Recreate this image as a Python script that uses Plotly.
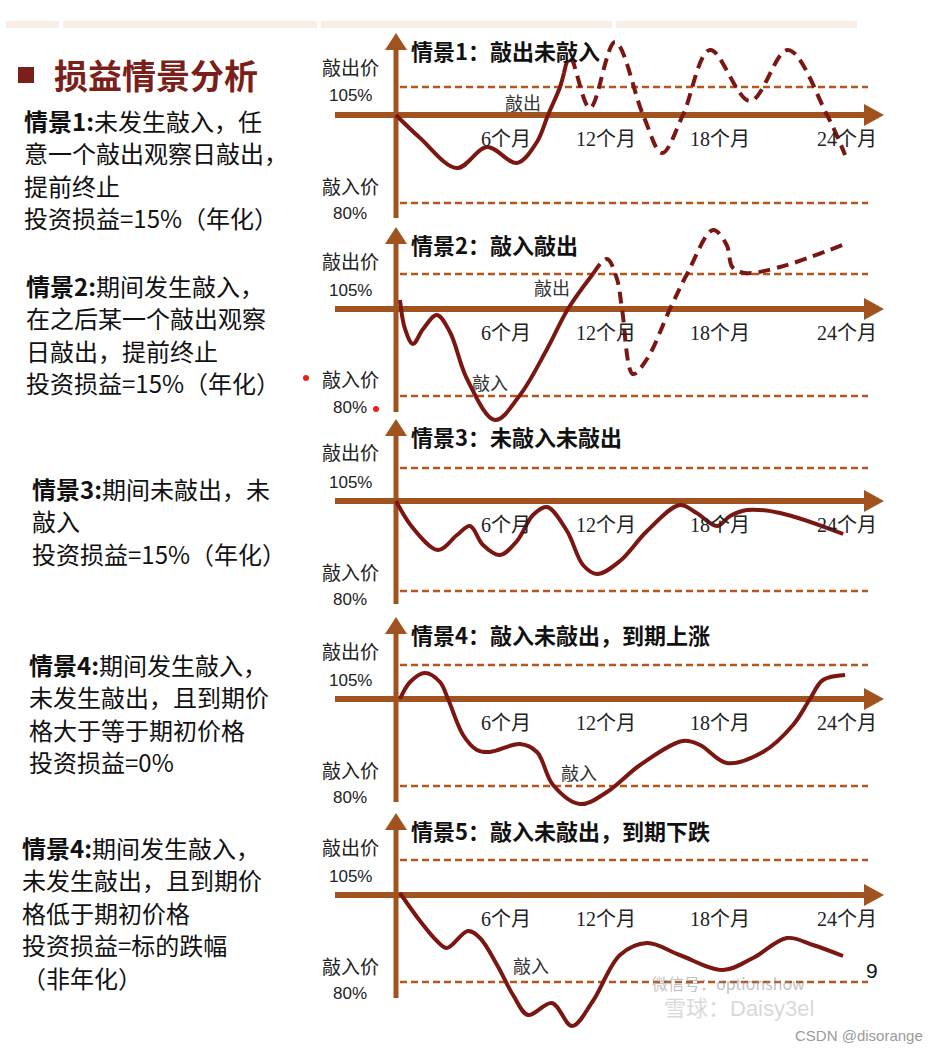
import plotly.graph_objects as go

W, H = 929, 1051

# ---------------- data (months, relative price level) ----------------
# Scenario 1: knock-out without knock-in
s1_solid_m = [0, 1.28, 3.25, 4.84, 6.44, 7.5, 8.09, 8.73, 8.94]
s1_solid_v = [0, -23, -53, -32, -48, -27, 0, 28, 42]
s1_dash_m = [8.94, 9.26, 10.32, 11.66, 13.15, 14.16, 15.27, 16.71, 18.84, 20.86, 22.94, 23.9]
s1_dash_v = [42, 58, 7, 73, 0, -38, 0, 65, 14, 65, 0, -40]

# Scenario 2: knock-in then knock-out
s2_solid_m = [0.21, 0.48, 0.9, 1.44, 2.18, 2.87, 3.78, 5.27, 6.6, 8.04, 9.15, 10.48]
s2_solid_v = [9, -20, -35, -20, -6, -23, -70, -111, -86, -40, 0, 35]
s2_dash_m = [10.48, 11.23, 11.76, 12.03, 12.61, 13.36, 14.58, 15.49, 16.87, 17.6, 17.9, 18.57, 20.44, 23.9]
s2_dash_v = [35, 50, 30, 0, -65, -50, 0, 35, 79, 64, 42, 36, 42, 65]

# Scenario 3: neither knock-in nor knock-out
s3_m = [0, 0.9, 2.24, 3.25, 3.94, 4.63, 5.53, 6.44, 7.29, 8.04, 9.1, 9.95, 10.7, 11.92, 13.36, 15.1, 16.0, 17.08, 17.78, 18.68, 20.44, 23.8]
s3_v = [0, -27, -49, -34, -25, -44, -54, -40, -14, -6, -30, -64, -73, -60, -30, -4, -12, -25, -15, -9, -12, -33]

# Scenario 4: knock-in, no knock-out, ends up
s4_m = [0.21, 0.75, 1.54, 2.34, 2.77, 3.57, 4.31, 5.0, 6.6, 7.5, 8.36, 9.79, 11.23, 12.99, 15.27, 16.18, 17.6, 19.53, 21.13, 22.03, 22.72, 23.9]
s4_v = [0, 17, 26, 17, 0, -36, -51, -53, -45, -53, -86, -105, -93, -66, -42, -46, -64, -53, -26, 0, 19, 24]

# Scenario 5: knock-in, no knock-out, ends down
s5_m = [0.21, 1.28, 2.18, 2.71, 3.83, 4.47, 5.38, 6.23, 7.03, 8.3, 9.37, 10.48, 11.92, 13.36, 15.1, 17.4, 19.0, 20.81, 22.19, 23.79]
s5_v = [2, -26, -46, -53, -36, -43, -70, -100, -120, -108, -131, -106, -60, -48, -60, -75, -63, -43, -50, -61]

# knock-out (105%) and knock-in (80%) line levels per panel
ko_levels = [28, 35, 33, 34, 35]
ki_levels = [-88, -87, -90, -87, -87]

tick_text = ["6个月", "12个月", "18个月", "24个月"]
tick_pos = [5.85, 11.18, 17.24, 24.0]

panel_titles = ["情景1：敲出未敲入", "情景2：敲入敲出", "情景3：未敲入未敲出",
                "情景4：敲入未敲出，到期上涨", "情景5：敲入未敲出，到期下跌"]

left_texts = [
    ["<b>情景1:</b>未发生敲入，任", "意一个敲出观察日敲出，", "提前终止", "投资损益=15%（年化）"],
    ["<b>情景2:</b>期间发生敲入，", "在之后某一个敲出观察", "日敲出，提前终止", "投资损益=15%（年化）"],
    ["<b>情景3:</b>期间未敲出，未", "敲入", "投资损益=15%（年化）"],
    ["<b>情景4:</b>期间发生敲入，", "未发生敲出，且到期价", "格大于等于期初价格", "投资损益=0%"],
    ["<b>情景4:</b>期间发生敲入，", "未发生敲出，且到期价", "格低于期初价格", "投资损益=标的跌幅", "（非年化）"],
]

# ---------------- layout constants ----------------
AXIS_Y = [115, 309, 501, 699, 895]          # pixel row of the horizontal axis of each panel
X0 = 396                                    # pixel column of the vertical axis
K = 18.79                                   # pixels per month
LEFT_X = [22, 24, 30, 27, 20]
LEFT_Y0 = [120, 285, 488, 664, 847]
LINE_GAP = 32.5

AX_COL = "#A0531F"
DASH_COL = "#B4561E"
CURVE_COL = "#7A1712"
TITLE_RED = "#7B1F1A"
CJK = "Noto Sans CJK SC"
SERIF = "Liberation Serif, Noto Sans CJK SC"
SANS = "Liberation Sans, Noto Sans CJK SC"


def px(x):
    return x / W


def py(y):
    return 1 - y / H


fig = go.Figure()
shapes = []
annotations = []

curves = [
    [(s1_solid_m, s1_solid_v, "solid"), (s1_dash_m, s1_dash_v, "12px,7px")],
    [(s2_solid_m, s2_solid_v, "solid"), (s2_dash_m, s2_dash_v, "12px,7px")],
    [(s3_m, s3_v, "solid")],
    [(s4_m, s4_v, "solid")],
    [(s5_m, s5_v, "solid")],
]

knock_labels = [
    [("敲出", 6.76, 13)],
    [("敲出", 8.3, 22), ("敲入", 5.0, -73)],
    [],
    [("敲入", 9.74, -73)],
    [("敲入", 7.18, -70)],
]

# top decorative band
for x0b, x1b in [(6, 59), (63, 317), (321, 612), (616, 857)]:
    shapes.append(dict(type="rect", xref="paper", yref="paper", x0=px(x0b), x1=px(x1b),
                       y0=py(28), y1=py(21), fillcolor="#F8EEE5", line=dict(width=0), layer="below"))

for i in range(5):
    n = "" if i == 0 else str(i + 1)
    Ya = AXIS_Y[i]
    xa, ya = "x" + n, "y" + n
    fig.layout["xaxis" + n] = dict(domain=[px(330), px(900)], range=[(330 - X0) / K, (900 - X0) / K],
                                   visible=False, anchor=ya, fixedrange=True)
    fig.layout["yaxis" + n] = dict(domain=[py(Ya + 135), py(Ya - 95)], range=[-135, 95],
                                   visible=False, anchor=xa, fixedrange=True)

    # axes with arrows (pixel layout)
    shapes.append(dict(type="line", xref="paper", yref="paper", x0=px(335), x1=px(868),
                       y0=py(Ya), y1=py(Ya), line=dict(color=AX_COL, width=6), layer="below"))
    shapes.append(dict(type="path", xref="paper", yref="paper",
                       path=f"M {px(864)},{py(Ya - 11)} L {px(884)},{py(Ya)} L {px(864)},{py(Ya + 11)} Z",
                       fillcolor=AX_COL, line=dict(width=0), layer="below"))
    shapes.append(dict(type="line", xref="paper", yref="paper", x0=px(X0), x1=px(X0),
                       y0=py(Ya + 103), y1=py(Ya - 66), line=dict(color=AX_COL, width=5), layer="below"))
    shapes.append(dict(type="path", xref="paper", yref="paper",
                       path=f"M {px(385)},{py(Ya - 65)} L {px(X0)},{py(Ya - 82)} L {px(407)},{py(Ya - 65)} Z",
                       fillcolor=AX_COL, line=dict(width=0), layer="below"))

    # knock-out / knock-in dashed levels
    for lvl in (ko_levels[i], ki_levels[i]):
        shapes.append(dict(type="line", xref=xa, yref=ya, x0=(400 - X0) / K, x1=(868 - X0) / K,
                           y0=lvl, y1=lvl, line=dict(color=DASH_COL, width=2.5, dash="7px,4px"),
                           layer="below"))

    # curves
    for m, v, d in curves[i]:
        fig.add_trace(go.Scatter(x=m, y=v, xaxis=xa, yaxis=ya, mode="lines",
                                 line=dict(color=CURVE_COL, width=4, shape="spline", smoothing=1.0, dash=d),
                                 hoverinfo="skip", showlegend=False))

    # tick labels
    for t, p in zip(tick_text, tick_pos):
        annotations.append(dict(xref=xa, yref=ya, x=p, y=-24, text=t, showarrow=False,
                                font=dict(family=SERIF, size=20, color="#222"),
                                xanchor="center", yanchor="middle"))

    # knock labels
    for t, m, v in knock_labels[i]:
        annotations.append(dict(xref=xa, yref=ya, x=m, y=v, text=t, showarrow=False,
                                font=dict(family=CJK, size=18, color="#333"),
                                xanchor="center", yanchor="middle"))

    # panel title
    annotations.append(dict(xref="paper", yref="paper", x=px(409), y=py(Ya - 65),
                            text="<b>" + panel_titles[i] + "</b>", showarrow=False,
                            font=dict(family=CJK, size=22, color="#111"),
                            xanchor="left", yanchor="middle"))

    # y labels
    for t, yy, fam, sz in [("敲出价", Ya - 49, CJK, 19), ("105%", Ya - 19, SANS, 17),
                           ("敲入价", Ya + 70, CJK, 19), ("80%", Ya + 98, SANS, 17)]:
        annotations.append(dict(xref="paper", yref="paper", x=px(350), y=py(yy), text=t,
                                showarrow=False, font=dict(family=fam, size=sz, color="#222"),
                                xanchor="center", yanchor="middle"))

    # left description
    for j, line in enumerate(left_texts[i]):
        annotations.append(dict(xref="paper", yref="paper", x=px(LEFT_X[i]),
                                y=py(LEFT_Y0[i] + j * LINE_GAP), text=line, showarrow=False,
                                font=dict(family=CJK, size=24, color="#111"),
                                xanchor="left", yanchor="middle"))

# main title
shapes.append(dict(type="rect", xref="paper", yref="paper", x0=px(18), x1=px(34),
                   y0=py(83), y1=py(67), fillcolor=TITLE_RED, line=dict(width=0)))
annotations.append(dict(xref="paper", yref="paper", x=px(52), y=py(75), text="<b>损益情景分析</b>",
                        showarrow=False, font=dict(family=CJK, size=34, color=TITLE_RED),
                        xanchor="left", yanchor="middle"))

# red dots (panel 2)
for cx, cy in [(306, 378), (376, 409)]:
    shapes.append(dict(type="circle", xref="paper", yref="paper", x0=px(cx - 3), x1=px(cx + 3),
                       y0=py(cy + 3), y1=py(cy - 3), fillcolor="#E8201C", line=dict(width=0)))

# page number & watermarks
annotations.append(dict(xref="paper", yref="paper", x=px(872), y=py(970), text="9", showarrow=False,
                        font=dict(family=SANS, size=21, color="#111"), xanchor="center", yanchor="middle"))
annotations.append(dict(xref="paper", yref="paper", x=px(650), y=py(983), text="微信号：optionshow",
                        showarrow=False, font=dict(family=CJK, size=16, color="rgba(140,140,140,0.55)"),
                        xanchor="left", yanchor="middle"))
annotations.append(dict(xref="paper", yref="paper", x=px(662), y=py(1008), text="雪球：Daisy3el",
                        showarrow=False, font=dict(family=SANS, size=22, color="rgba(190,190,190,0.6)"),
                        xanchor="left", yanchor="middle"))
annotations.append(dict(xref="paper", yref="paper", x=px(925), y=py(1035), text="CSDN @disorange",
                        showarrow=False, font=dict(family=SANS, size=15, color="#9a9a9a"),
                        xanchor="right", yanchor="middle"))

fig.update_layout(width=W, height=H, margin=dict(l=0, r=0, t=0, b=0),
                  paper_bgcolor="white", plot_bgcolor="rgba(0,0,0,0)",
                  shapes=shapes, annotations=annotations, showlegend=False)

fig.write_html("out.html", config={"displayModeBar": False},
               post_script="document.body.style.margin='0';document.body.style.padding='0';")
